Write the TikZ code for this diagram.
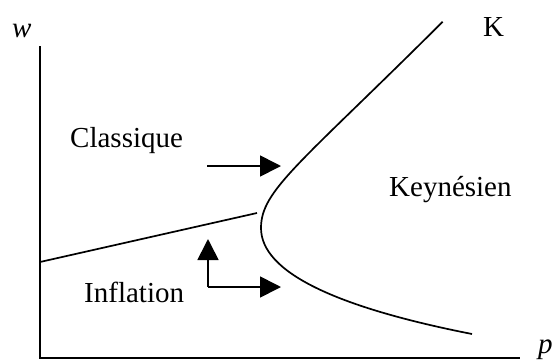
\documentclass[tikz,border=0pt]{standalone}
\usepackage{fontspec}
\setmainfont{Liberation Serif}
\usetikzlibrary{arrows.meta}
\begin{document}
\begin{tikzpicture}[x=1pt,y=-1pt,
  lbl/.style={inner sep=0pt,anchor=base west,font=\fontsize{29}{34}\selectfont},
  axis/.style={line width=1.8pt},
  curve/.style={line width=1.7pt},
  arr/.style={line width=1.7pt,-{Triangle[length=21pt,width=21pt]}}]
\useasboundingbox (0,0) rectangle (555,360);
% axes
\coordinate (ytop) at (40,46);
\coordinate (orig) at (40,358);
\coordinate (xend) at (520,358);
\draw[axis] (ytop) -- (orig) -- (xend);
% labels
\node[lbl] (w) at (12,37) {\itshape w};
\node[lbl] (p) at (538,353) {\itshape p};
\node[lbl] (K) at (483,36.5) {K};
\node[lbl] (cl) at (70,147) {Classique};
\node[lbl] (ke) at (389,196) {Keynésien};
\node[lbl] (in) at (84,302.5) {Inflation};
% K curve
\coordinate (ktop) at (442.7,21.7);
\coordinate (kv) at (261,228);
\coordinate (kbot) at (472,334);
\draw[curve] (ktop) .. controls (300,164) and (261,190) .. (kv)
  .. controls (261,272) and (335,307) .. (kbot);
% line
\coordinate (l1) at (40,262);
\coordinate (l2) at (257,213);
\draw[curve] (l1) -- (l2);
% arrows
\coordinate (a1s) at (207,166);
\coordinate (a1e) at (281,166);
\draw[arr] (a1s) -- (a1e);
\coordinate (c) at (208,287);
\coordinate (up) at (208,239);
\coordinate (rt) at (281,287);
\draw[arr] (c) -- (up);
\draw[arr] (c) -- (rt);
\end{tikzpicture}
\end{document}
